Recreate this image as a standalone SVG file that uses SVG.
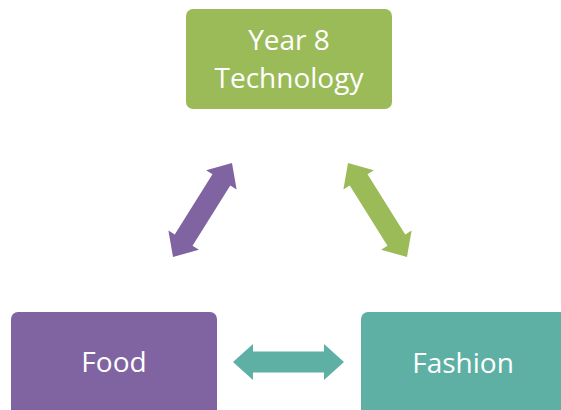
<svg xmlns="http://www.w3.org/2000/svg" width="561" height="410" viewBox="0 0 561 410">
  <defs>
    <style>
      .lbl { font-family: "Open Sans", "Noto Sans", "Liberation Sans", sans-serif; font-size: 28px; fill: #ffffff; text-anchor: middle; }
    </style>
    <polygon id="dbl" points="-55.5,0 -35.5,-18 -35.5,-10.5 35.5,-10.5 35.5,-18 55.5,0 35.5,18 35.5,10.5 -35.5,10.5 -35.5,18"/>
  </defs>
  <rect width="561" height="410" fill="#ffffff"/>
  <g id="tech">
    <rect x="186" y="9" width="206" height="100" rx="7" fill="#9BBB59"/>
    <text class="lbl" x="289" y="50">Year 8</text>
    <text class="lbl" x="289" y="88">Technology</text>
  </g>
  <g id="food">
    <rect x="11" y="312" width="206" height="104" rx="7" fill="#8064A2"/>
    <text class="lbl" x="114" y="372">Food</text>
  </g>
  <g id="fashion">
    <rect x="361" y="312" width="210" height="104" rx="7" fill="#5EB0A4"/>
    <text class="lbl" x="463" y="373">Fashion</text>
  </g>
  <g id="connectors">
    <use href="#dbl" fill="#8064A2" transform="translate(202.5,210) rotate(-57.9)"/>
    <use href="#dbl" fill="#9BBB59" transform="translate(377.5,210) rotate(57.9)"/>
    <use href="#dbl" fill="#5EB0A4" transform="translate(288.5,362)"/>
  </g>
</svg>
